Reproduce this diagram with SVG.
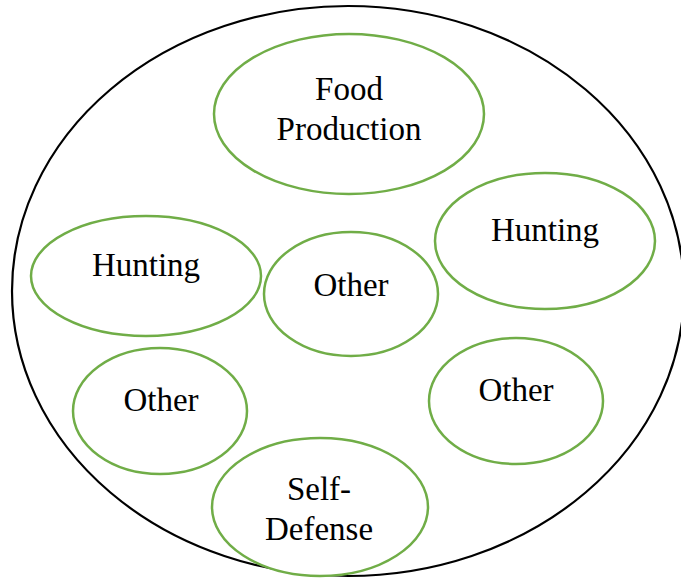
<svg xmlns="http://www.w3.org/2000/svg" width="681" height="578" viewBox="0 0 681 578">
<style>
.outer{fill:#fff;stroke:#000;stroke-width:2.2}
.n ellipse{fill:#fff;stroke:#70AD47;stroke-width:2.5}
.n text{font-family:"Liberation Serif","Times New Roman",serif;font-size:33px;fill:#000;text-anchor:middle}
</style>
<rect width="681" height="578" fill="#fff"/>
<g id="outer"><ellipse class="outer" cx="348" cy="291" rx="336" ry="285"/></g>
<g id="connectors"></g>
<g id="food" class="n"><ellipse cx="349" cy="114" rx="135" ry="80"/><text x="349" y="100">Food</text><text x="349" y="140">Production</text></g>
<g id="hunting-right" class="n"><ellipse cx="545" cy="241" rx="110" ry="68"/><text x="545" y="241">Hunting</text></g>
<g id="hunting-left" class="n"><ellipse cx="146" cy="276" rx="115" ry="60"/><text x="146" y="276">Hunting</text></g>
<g id="other-center" class="n"><ellipse cx="351" cy="294" rx="87" ry="62"/><text x="351" y="296">Other</text></g>
<g id="other-left" class="n"><ellipse cx="160" cy="411" rx="87" ry="63"/><text x="161" y="411">Other</text></g>
<g id="other-right" class="n"><ellipse cx="516" cy="401" rx="87" ry="63"/><text x="516" y="401">Other</text></g>
<g id="self-defense" class="n"><ellipse cx="320" cy="507" rx="108" ry="69"/><text x="319" y="500">Self-</text><text x="319" y="540">Defense</text></g>
</svg>
